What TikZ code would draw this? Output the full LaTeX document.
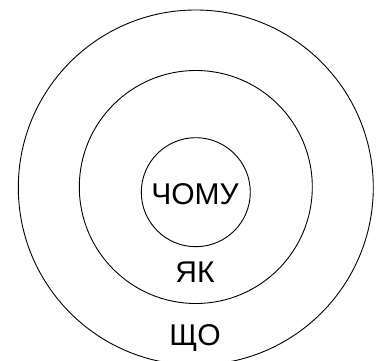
\documentclass[tikz,border=0pt]{standalone}
\usepackage{fontspec}
\setmainfont{Liberation Sans}
\begin{document}
\begin{tikzpicture}[x=1pt,y=1pt,
    ring/.style={circle, draw, line width=0.9pt, inner sep=0pt},
    word/.style={font=\fontsize{30}{30}\selectfont, anchor=base, inner sep=0pt}]
  \useasboundingbox (0,0) rectangle (378,361);
  % rings
  \begin{scope}
    \clip (0,0) rectangle (378,361);
    \node[ring, minimum size=355pt] (shcho) at (195.8,173.5) {};
    \node[ring, minimum size=233pt] (yak) at (195.8,174) {};
    \node[ring, minimum size=109pt] (chomu) at (195.8,168.8) {};
  \end{scope}
  % labels
  \node[word] (tchomu) at (195,156) {ЧОМУ};
  \node[word] (tyak) at (195,78) {ЯК};
  \node[word] (tshcho) at (195,15.5) {ЩО};
\end{tikzpicture}
\end{document}
